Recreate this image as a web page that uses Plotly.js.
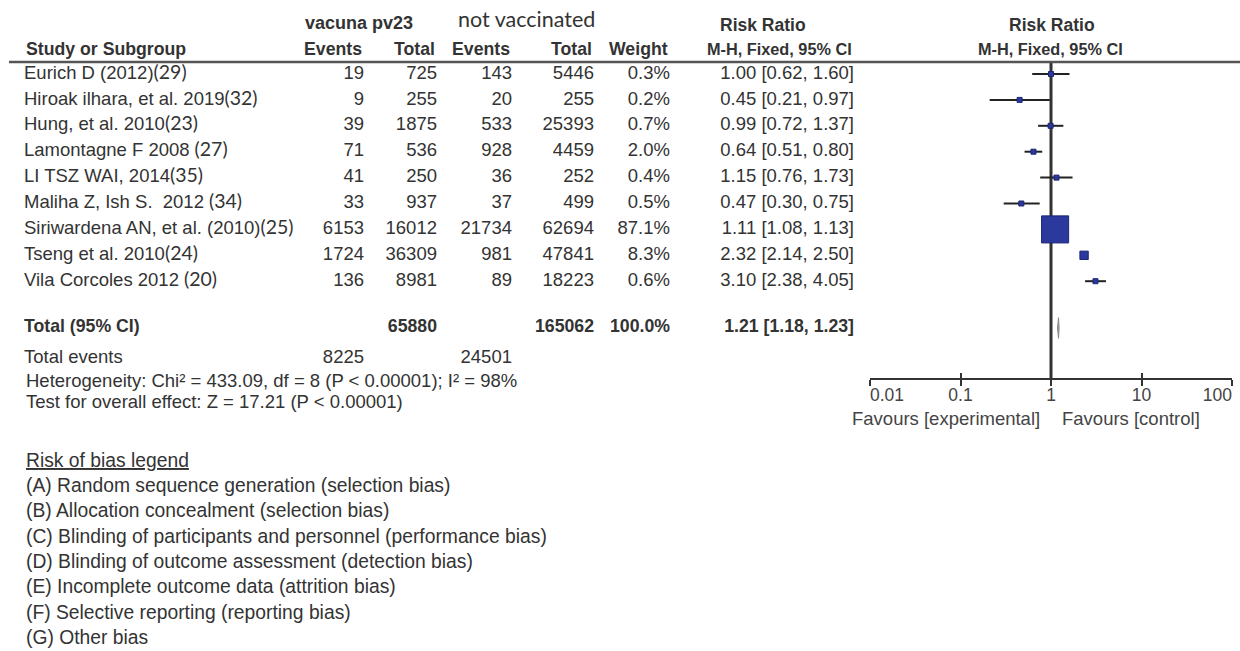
<!DOCTYPE html>
<html><head><meta charset="utf-8">
<script src="https://cdn.plot.ly/plotly-3.0.1.min.js"></script>
<style>html,body{margin:0;padding:0;background:#fff;} #chart{width:1240px;height:651px;}</style>
</head><body><div id="chart"></div>
<script>
// ---------- data ----------
const studies = ["Eurich D (2012)", "Hiroak ilhara, et al. 2019", "Hung, et al. 2010", "Lamontagne F 2008",
  "LI TSZ WAI, 2014", "Maliha Z, Ish S.  2012", "Siriwardena AN, et al. (2010)", "Tseng et al. 2010", "Vila Corcoles 2012"];
const refs = ["(29)", "(32)", "(23)", " (27)", "(35)", " (34)", "(25)", "(24)", " (20)"];
const vacEvents = [19, 9, 39, 71, 41, 33, 6153, 1724, 136];
const vacTotal = [725, 255, 1875, 536, 250, 937, 16012, 36309, 8981];
const nvEvents = [143, 20, 533, 928, 36, 37, 21734, 981, 89];
const nvTotal = [5446, 255, 25393, 4459, 252, 499, 62694, 47841, 18223];
const weight = [0.3, 0.2, 0.7, 2.0, 0.4, 0.5, 87.1, 8.3, 0.6];
const rr = [1.00, 0.45, 0.99, 0.64, 1.15, 0.47, 1.11, 2.32, 3.10];
const ciLow = [0.62, 0.21, 0.72, 0.51, 0.76, 0.30, 1.08, 2.14, 2.38];
const ciHigh = [1.60, 0.97, 1.37, 0.80, 1.73, 0.75, 1.13, 2.50, 4.05];
const totalN = [65880, 165062];
const totalEvents = [8225, 24501];
const totalWeight = 100.0;
const pooled = [1.21, 1.18, 1.23];  // estimate, lower, upper
const axisTicks = [0.01, 0.1, 1, 10, 100];
const tickLabels = ["0.01", "0.1", "1", "10", "100"];
const biasLegend = [
  "(A) Random sequence generation (selection bias)",
  "(B) Allocation concealment (selection bias)",
  "(C) Blinding of participants and personnel (performance bias)",
  "(D) Blinding of outcome assessment (detection bias)",
  "(E) Incomplete outcome data (attrition bias)",
  "(F) Selective reporting (reporting bias)",
  "(G) Other bias"
];

// ---------- layout helpers ----------
const W = 1240, H = 651;
const ROW0_PX = 74, ROW_PX = 25.9;
const rowAt = px => (px - ROW0_PX) / ROW_PX;
const py = px => 1 - px / H;
const FONT = 'Liberation Sans, Arial, sans-serif';
const REF_FONT = 'Lato, sans-serif';
const TXT = '#333';
const FS = 18.5;   // body text
const HS = 17.7;   // bold headers

const rows = studies.map((_, i) => i);
const TOTAL_ROW = rowAt(328);
const EVENTS_ROW = rowAt(358);
const COL = {name: 24, vacEvents: 364, vacTotal: 437, nvEvents: 512, nvTotal: 594, weight: 670, ci: 854};
const FOREST_L = 870, FOREST_R = 1232, AXIS_PX = 379, HEADER_LINE_PX = 62;

function textTrace(xpx, ys, texts, pos, opts) {
  opts = opts || {};
  return {
    type: 'scatter', mode: 'text', xaxis: 'x', yaxis: 'y',
    x: ys.map(() => xpx), y: ys, text: texts, textposition: pos,
    marker: {size: 1, opacity: 0},
    textfont: {family: opts.family || FONT, size: opts.size || FS, color: opts.color || TXT},
    hoverinfo: 'skip', cliponaxis: false
  };
}
const fmt2 = v => v.toFixed(2);
const ciText = (e, l, h) => fmt2(e) + ' [' + fmt2(l) + ', ' + fmt2(h) + ']';

const traces = [];
// table body
traces.push(textTrace(COL.name, rows,
  studies.map((s, i) => s + "<span style='font-family:Lato;font-size:19.5px'>" + refs[i] + "</span>"), 'middle right'));
traces.push(textTrace(COL.vacEvents, rows, vacEvents.map(String), 'middle left'));
traces.push(textTrace(COL.vacTotal, rows, vacTotal.map(String), 'middle left'));
traces.push(textTrace(COL.nvEvents, rows, nvEvents.map(String), 'middle left'));
traces.push(textTrace(COL.nvTotal, rows, nvTotal.map(String), 'middle left'));
traces.push(textTrace(COL.weight, rows, weight.map(w => w.toFixed(1) + '%'), 'middle left'));
traces.push(textTrace(COL.ci, rows, rr.map((e, i) => ciText(e, ciLow[i], ciHigh[i])), 'middle left'));
// total row
traces.push(textTrace(COL.name, [TOTAL_ROW], ['<b>Total (95% CI)</b>'], 'middle right', {size: HS}));
traces.push(textTrace(COL.vacTotal, [TOTAL_ROW], ['<b>' + totalN[0] + '</b>'], 'middle left', {size: HS}));
traces.push(textTrace(COL.nvTotal, [TOTAL_ROW], ['<b>' + totalN[1] + '</b>'], 'middle left', {size: HS}));
traces.push(textTrace(COL.weight, [TOTAL_ROW], ['<b>' + totalWeight.toFixed(1) + '%</b>'], 'middle left', {size: HS}));
traces.push(textTrace(COL.ci, [TOTAL_ROW], ['<b>' + ciText(pooled[0], pooled[1], pooled[2]) + '</b>'], 'middle left', {size: HS}));
// total events
traces.push(textTrace(COL.name, [EVENTS_ROW], ['Total events'], 'middle right'));
traces.push(textTrace(COL.vacEvents, [EVENTS_ROW], [String(totalEvents[0])], 'middle left'));
traces.push(textTrace(COL.nvEvents, [EVENTS_ROW], [String(totalEvents[1])], 'middle left'));

// forest: null line
traces.push({
  type: 'scatter', mode: 'lines', xaxis: 'x2', yaxis: 'y',
  x: [1, 1], y: [rowAt(HEADER_LINE_PX), rowAt(AXIS_PX)],
  line: {color: '#333', width: 3}, hoverinfo: 'skip'
});
// forest: study estimates with CI
traces.push({
  type: 'scatter', mode: 'markers', xaxis: 'x2', yaxis: 'y',
  x: rr, y: rows,
  error_x: {type: 'data', symmetric: false,
    array: rr.map((e, i) => ciHigh[i] - e), arrayminus: rr.map((e, i) => e - ciLow[i]),
    width: 0, thickness: 2, color: '#222'},
  marker: {symbol: 'square', size: weight.map(w => Math.max(5, 2.9 * Math.sqrt(w))), opacity: 1,
    color: '#2b389c', line: {color: '#1d2675', width: 1}},
  hoverinfo: 'skip', cliponaxis: false
});
// forest: pooled diamond
traces.push({
  type: 'scatter', mode: 'lines', xaxis: 'x2', yaxis: 'y', fill: 'toself',
  x: [pooled[1], pooled[0], pooled[2], pooled[0], pooled[1]],
  y: [TOTAL_ROW, TOTAL_ROW - 0.4, TOTAL_ROW, TOTAL_ROW + 0.4, TOTAL_ROW],
  fillcolor: '#9a9a9a', line: {color: '#8a8a8a', width: 1}, hoverinfo: 'skip'
});
// forest axis tick labels
traces.push({
  type: 'scatter', mode: 'text', xaxis: 'x2', yaxis: 'y',
  x: axisTicks, y: axisTicks.map(() => rowAt(397)), text: tickLabels,
  textposition: axisTicks.map((t, i) => i === 0 ? 'middle right' : (i === axisTicks.length - 1 ? 'middle left' : 'middle center')),
  marker: {size: 1, opacity: 0},
  textfont: {family: FONT, size: 17.5, color: '#444'}, hoverinfo: 'skip', cliponaxis: false
});
// dummy trace for inside-tick overlay axis
traces.push({type: 'scatter', mode: 'markers', xaxis: 'x3', yaxis: 'y', x: [1], y: [rowAt(AXIS_PX)],
  marker: {size: 1, opacity: 0}, hoverinfo: 'skip'});

const ann = [];
function note(text, xpx, ypx, xanchor, opts) {
  opts = opts || {};
  ann.push({text: text, x: xpx / W, y: py(ypx), xref: 'paper', yref: 'paper',
    xanchor: xanchor, yanchor: 'middle', showarrow: false, borderpad: 0, borderwidth: 0,
    font: {family: opts.family || FONT, size: opts.size || FS, color: opts.color || TXT}});
}
// headers
note('<b>vacuna pv23</b>', 359, 23, 'center', {size: 18});
note('not vaccinated', 526, 19, 'center', {family: REF_FONT, size: 21.5});
note('<b>Risk Ratio</b>', 763, 25, 'center', {size: 17.5});
note('<b>Risk Ratio</b>', 1052, 25, 'center', {size: 17.5});
note('<b>Study or Subgroup</b>', 26, 49, 'left', {size: HS});
note('<b>Events</b>', 362, 49, 'right', {size: HS});
note('<b>Total</b>', 435, 49, 'right', {size: HS});
note('<b>Events</b>', 510, 49, 'right', {size: HS});
note('<b>Total</b>', 592, 49, 'right', {size: HS});
note('<b>Weight</b>', 668, 49, 'right', {size: HS});
note('<b>M-H, Fixed, 95% CI</b>', 852, 49, 'right', {size: 16.3});
note('<b>M-H, Fixed, 95% CI</b>', 1050, 49, 'center', {size: 16.3});
// footers
note('Heterogeneity: Chi² = 433.09, df = 8 (P &lt; 0.00001); I² = 98%', 26, 380, 'left');
note('Test for overall effect: Z = 17.21 (P &lt; 0.00001)', 26, 401, 'left');
note('Favours [experimental]', 946, 419, 'center', {color: '#444'});
note('Favours [control]', 1131, 419, 'center', {color: '#444'});
note('<u>Risk of bias legend</u>', 26, 460, 'left', {size: 19.3});
biasLegend.forEach((t, i) => note(t, 26, 485.5 + 25.3 * i, 'left', {size: 19.3}));

const layout = {
  width: W, height: H, margin: {l: 0, r: 0, t: 0, b: 0},
  paper_bgcolor: '#fff', plot_bgcolor: 'rgba(0,0,0,0)', showlegend: false, hovermode: false,
  xaxis: {domain: [0, 1], range: [0, W], visible: false, fixedrange: true},
  yaxis: {domain: [0, 1], range: [rowAt(H), rowAt(0)], visible: false, fixedrange: true},
  xaxis2: {type: 'log', domain: [FOREST_L / W, FOREST_R / W], range: [-2, 2], anchor: 'free', position: py(AXIS_PX),
    showline: true, linecolor: '#333', linewidth: 2, ticks: 'outside', ticklen: 6, tickwidth: 2, tickcolor: '#333',
    tickvals: axisTicks, showticklabels: false, showgrid: false, zeroline: false},
  xaxis3: {type: 'log', domain: [FOREST_L / W, FOREST_R / W], range: [-2, 2], anchor: 'free', position: py(AXIS_PX),
    overlaying: 'x2', showline: false, ticks: 'inside', ticklen: 6, tickwidth: 2, tickcolor: '#333',
    tickvals: axisTicks, showticklabels: false, showgrid: false, zeroline: false},
  shapes: [{type: 'line', xref: 'paper', yref: 'paper', x0: 9 / W, x1: 1, y0: py(HEADER_LINE_PX), y1: py(HEADER_LINE_PX),
    line: {color: '#555', width: 2.5}}],
  annotations: ann
};
Plotly.newPlot('chart', traces, layout, {staticPlot: true, displayModeBar: false});
</script></body></html>
